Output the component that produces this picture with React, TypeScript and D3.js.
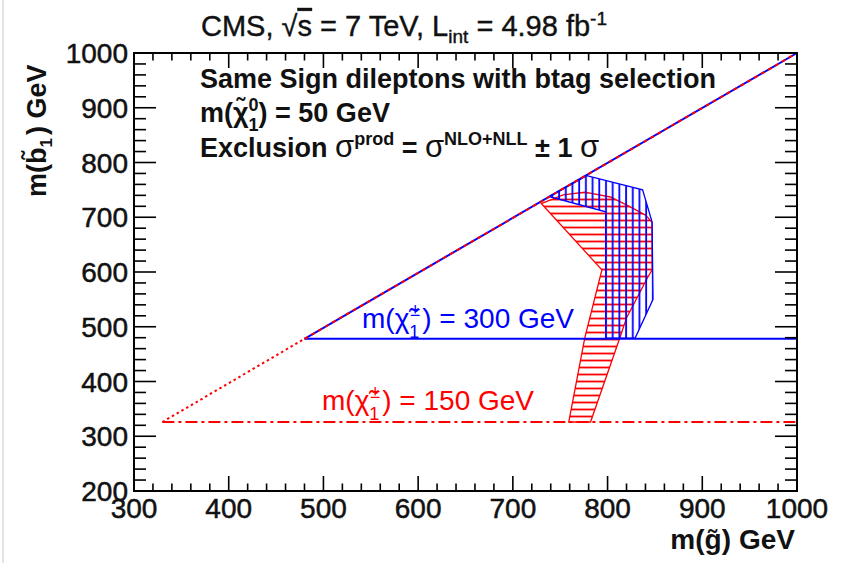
import React from "react";
import * as d3 from "d3";

// axis ranges and ticks
const xDomain = [300, 1000];
const yDomain = [200, 1000];
const xMajor = [300, 400, 500, 600, 700, 800, 900, 1000];
const yMajor = [200, 300, 400, 500, 600, 700, 800, 900, 1000];

// excluded region, chargino 150 GeV (red, horizontal hatch)
const redX = [730, 753, 776, 803, 824, 840, 847, 847, 842, 820, 813, 782, 759, 776, 794];
const redY = [725, 741, 746, 737, 719, 704, 691, 604, 589, 516, 480, 326, 326, 480, 604];

// excluded region, chargino 300 GeV (blue, vertical hatch)
const blueX = [738, 778, 837, 847, 848, 829, 798, 798];
const blueY = [738, 776, 750, 691, 550, 479, 479, 710];

// kinematic limit lines
const diagSolidX = [480, 1000];
const diagSolidY = [478, 1000];
const diagDotX = [330, 480];
const diagDotY = [326, 478];
const chi300 = { y: 478, x: [480, 1000] };
const chi150 = { y: 326, x: [330, 1000] };

const W = 844;
const H = 563;
const L = 134, R = 797, T = 53, B = 491;
const FONT = "'Liberation Sans', Arial, Helvetica, sans-serif";

export default function App() {
  const x = d3.scaleLinear().domain(xDomain).range([L, R]);
  const y = d3.scaleLinear().domain(yDomain).range([B, T]);
  const line = d3.line<[number, number]>().x(d => x(d[0])).y(d => y(d[1]));
  const poly = (xs: number[], ys: number[]) =>
    line(xs.map((v, i) => [v, ys[i]] as [number, number])) + "Z";

  const xMinor = d3.range(xDomain[0], xDomain[1] + 1, 20).filter(v => v % 100 !== 0);
  const yMinor = d3.range(yDomain[0], yDomain[1] + 1, 20).filter(v => v % 100 !== 0);

  const red = "#ff0000";
  const blue = "#0000ff";

  return (
    <svg width={W} height={H} style={{ position: "absolute", left: 0, top: 0, background: "#fff" }}
      fontFamily={FONT}>
      <defs>
        <pattern id="hatchH" patternUnits="userSpaceOnUse" width={8} height={7}>
          <line x1={0} y1={3.5} x2={8} y2={3.5} stroke={red} strokeWidth={1.8} />
        </pattern>
        <pattern id="hatchV" patternUnits="userSpaceOnUse" width={6.7} height={8}>
          <line x1={3} y1={0} x2={3} y2={8} stroke={blue} strokeWidth={1.8} />
        </pattern>
      </defs>
      <rect width={W} height={H} fill="#fff" />
      <line x1={3} y1={0} x2={3} y2={H} stroke="#e4e4e4" strokeWidth={2} />

      {/* hatched exclusion regions */}
      <path d={poly(redX, redY)} fill="url(#hatchH)" stroke={red} strokeWidth={1.3} />
      <path d={poly(blueX, blueY)} fill="url(#hatchV)" stroke={blue} strokeWidth={1.3} />

      {/* lines */}
      <path d={line([[chi150.x[0], chi150.y], [chi150.x[1], chi150.y]])!} stroke={red} strokeWidth={2}
        strokeDasharray="12 4 3 4" fill="none" />
      <path d={line([[chi300.x[0], chi300.y], [chi300.x[1], chi300.y]])!} stroke={blue} strokeWidth={2}
        fill="none" />
      <path d={line(diagDotX.map((v, i) => [v, diagDotY[i]] as [number, number]))!} stroke={red}
        strokeWidth={2} strokeDasharray="2.5 3" fill="none" />
      <path d={line(diagSolidX.map((v, i) => [v, diagSolidY[i]] as [number, number]))!} stroke={blue}
        strokeWidth={2} fill="none" />
      <path d={line(diagSolidX.map((v, i) => [v, diagSolidY[i]] as [number, number]))!} stroke={red}
        strokeWidth={2} strokeDasharray="4 4" fill="none" />

      {/* frame and ticks */}
      <rect x={L} y={T} width={R - L} height={B - T} fill="none" stroke="#000" strokeWidth={2} />
      <g stroke="#000" strokeWidth={1.6}>
        {xMajor.map(v => (
          <g key={"xM" + v}>
            <line x1={x(v)} x2={x(v)} y1={B} y2={B - 15} />
            <line x1={x(v)} x2={x(v)} y1={T} y2={T + 15} />
          </g>
        ))}
        {xMinor.map(v => (
          <g key={"xm" + v}>
            <line x1={x(v)} x2={x(v)} y1={B} y2={B - 7.5} />
            <line x1={x(v)} x2={x(v)} y1={T} y2={T + 7.5} />
          </g>
        ))}
        {yMajor.map(v => (
          <g key={"yM" + v}>
            <line x1={L} x2={L + 22} y1={y(v)} y2={y(v)} />
            <line x1={R} x2={R - 22} y1={y(v)} y2={y(v)} />
          </g>
        ))}
        {yMinor.map(v => (
          <g key={"ym" + v}>
            <line x1={L} x2={L + 12} y1={y(v)} y2={y(v)} />
            <line x1={R} x2={R - 12} y1={y(v)} y2={y(v)} />
          </g>
        ))}
      </g>

      {/* tick labels */}
      <g fontSize={28} fill="#111" stroke="#111" strokeWidth={0.5}>
        {xMajor.map(v => (
          <text key={"xl" + v} x={x(v)} y={518} textAnchor="middle">{v}</text>
        ))}
        {yMajor.map(v => (
          <text key={"yl" + v} x={128} y={y(v) + 10} textAnchor="end">{v}</text>
        ))}
      </g>

      {/* axis titles */}
      <text x={795} y={549} textAnchor="end" fontSize={28} fontWeight="bold" fill="#111">
        m(g̃)<tspan dx={8}>GeV</tspan>
      </text>
      <text transform="translate(46,197) rotate(-90)" fontSize={27} fontWeight="bold" fill="#111">
        m(b̃<tspan fontSize={17} dy={6}>1</tspan><tspan dy={-6} dx={3}>) GeV</tspan>
      </text>

      {/* title */}
      <text x={201} y={36} fontSize={29} fill="#111" stroke="#111" strokeWidth={0.4}>
        CMS, √<tspan textDecoration="overline">s</tspan> = 7 TeV, L<tspan fontSize={19} dy={7}>int</tspan>
        <tspan dy={-7}> = 4.98 fb</tspan><tspan fontSize={19} dy={-11}>-1</tspan>
      </text>

      {/* legend text */}
      <g fontWeight="bold" fontSize={27} fill="#111">
        <text x={200} y={88}>Same Sign dileptons with btag selection</text>
        <text x={200} y={122}>
          m(χ̃<tspan fontSize={18} dy={-11}>0</tspan><tspan fontSize={18} dx={-10} dy={20}>1</tspan>
          <tspan dy={-9}>) = 50 GeV</tspan>
        </text>
        <text x={200} y={157}>
          Exclusion <tspan fontWeight="normal" fontSize={31}>σ</tspan><tspan fontSize={18} dy={-12}>prod</tspan>
          <tspan dy={12}> = </tspan><tspan fontWeight="normal" fontSize={31}>σ</tspan>
          <tspan fontSize={18} dy={-12}>NLO+NLL</tspan><tspan dy={12}> ± 1 </tspan>
          <tspan fontWeight="normal" fontSize={31}>σ</tspan>
        </text>
      </g>

      {/* chargino labels */}
      <text x={362} y={328} fontSize={28} fill={blue}>
        m(χ̃<tspan fontSize={18} dy={-12} dx={1}>±</tspan><tspan fontSize={18} dx={-11} dy={22}>1</tspan>
        <tspan dy={-10} dx={3}>) = 300 GeV</tspan>
      </text>
      <text x={322} y={410} fontSize={28} fill={red}>
        m(χ̃<tspan fontSize={18} dy={-12} dx={1}>±</tspan><tspan fontSize={18} dx={-11} dy={22}>1</tspan>
        <tspan dy={-10} dx={3}>) = 150 GeV</tspan>
      </text>
    </svg>
  );
}
